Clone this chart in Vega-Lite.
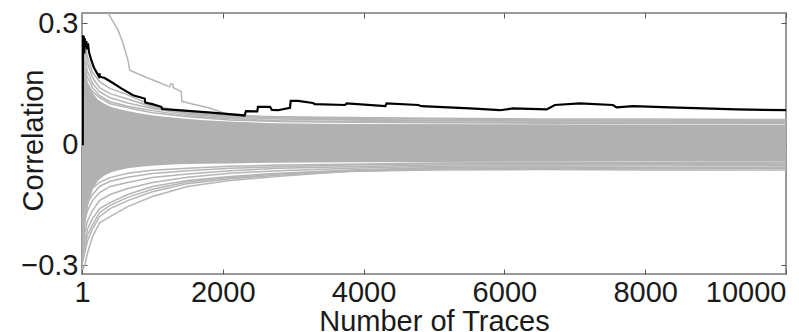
{
  "$schema": "https://vega.github.io/schema/vega-lite/v6.json",
  "width": 704,
  "height": 261,
  "autosize": "none",
  "padding": {"left": 82, "top": 13, "right": 13, "bottom": 58},
  "background": "white",
  "config": {
    "view": {"stroke": "#7a7a7a", "strokeWidth": 1.5},
    "axis": {
      "labelFont": "Liberation Sans", "titleFont": "Liberation Sans",
      "labelFontSize": 29, "titleFontSize": 29, "titleFontWeight": "normal",
      "labelColor": "#1a1a1a", "titleColor": "#1a1a1a",
      "grid": false, "domain": false, "tickColor": "#555555", "tickSize": -5, "tickWidth": 1
    }
  },
  "datasets": {
    "band": [
      {"x": 1, "lo": -0.315, "hi": 0.30},
      {"x": 10, "lo": -0.31, "hi": 0.27},
      {"x": 25, "lo": -0.27, "hi": 0.23},
      {"x": 45, "lo": -0.21, "hi": 0.19},
      {"x": 70, "lo": -0.17, "hi": 0.16},
      {"x": 110, "lo": -0.135, "hi": 0.14},
      {"x": 160, "lo": -0.11, "hi": 0.125},
      {"x": 230, "lo": -0.09, "hi": 0.11},
      {"x": 320, "lo": -0.078, "hi": 0.1},
      {"x": 420, "lo": -0.07, "hi": 0.092},
      {"x": 520, "lo": -0.065, "hi": 0.087},
      {"x": 650, "lo": -0.06, "hi": 0.082},
      {"x": 830, "lo": -0.056, "hi": 0.076},
      {"x": 1040, "lo": -0.053, "hi": 0.07},
      {"x": 1360, "lo": -0.05, "hi": 0.065},
      {"x": 1680, "lo": -0.049, "hi": 0.06},
      {"x": 2070, "lo": -0.048, "hi": 0.056},
      {"x": 2740, "lo": -0.046, "hi": 0.052},
      {"x": 3800, "lo": -0.045, "hi": 0.05},
      {"x": 6000, "lo": -0.044, "hi": 0.049},
      {"x": 10000, "lo": -0.043, "hi": 0.048}
    ],
    "lines": [
      {"s": "L1", "x": 15, "y": -0.31}, {"s": "L1", "x": 40, "y": -0.30}, {"s": "L1", "x": 80, "y": -0.27}, {"s": "L1", "x": 150, "y": -0.23},
      {"s": "L1", "x": 250, "y": -0.195}, {"s": "L1", "x": 400, "y": -0.18}, {"s": "L1", "x": 650, "y": -0.155}, {"s": "L1", "x": 1000, "y": -0.13},
      {"s": "L1", "x": 1500, "y": -0.105}, {"s": "L1", "x": 2100, "y": -0.09}, {"s": "L1", "x": 2800, "y": -0.08}, {"s": "L1", "x": 3800, "y": -0.067},
      {"s": "L1", "x": 5000, "y": -0.064}, {"s": "L1", "x": 6500, "y": -0.063}, {"s": "L1", "x": 8000, "y": -0.064}, {"s": "L1", "x": 10000, "y": -0.064},
      {"s": "L2", "x": 15, "y": -0.29}, {"s": "L2", "x": 40, "y": -0.27}, {"s": "L2", "x": 80, "y": -0.24}, {"s": "L2", "x": 150, "y": -0.21},
      {"s": "L2", "x": 250, "y": -0.18}, {"s": "L2", "x": 400, "y": -0.16}, {"s": "L2", "x": 650, "y": -0.14}, {"s": "L2", "x": 1000, "y": -0.118},
      {"s": "L2", "x": 1500, "y": -0.098}, {"s": "L2", "x": 2100, "y": -0.086}, {"s": "L2", "x": 2800, "y": -0.077}, {"s": "L2", "x": 3800, "y": -0.068},
      {"s": "L2", "x": 5000, "y": -0.062}, {"s": "L2", "x": 6500, "y": -0.06}, {"s": "L2", "x": 8000, "y": -0.061}, {"s": "L2", "x": 10000, "y": -0.06},
      {"s": "L0", "x": 15, "y": -0.28}, {"s": "L0", "x": 40, "y": -0.255}, {"s": "L0", "x": 80, "y": -0.225}, {"s": "L0", "x": 150, "y": -0.2},
      {"s": "L0", "x": 250, "y": -0.17}, {"s": "L0", "x": 400, "y": -0.152}, {"s": "L0", "x": 650, "y": -0.132}, {"s": "L0", "x": 1000, "y": -0.112},
      {"s": "L0", "x": 1500, "y": -0.094}, {"s": "L0", "x": 2100, "y": -0.083}, {"s": "L0", "x": 2800, "y": -0.074}, {"s": "L0", "x": 3800, "y": -0.066},
      {"s": "L0", "x": 5000, "y": -0.06}, {"s": "L0", "x": 6500, "y": -0.058}, {"s": "L0", "x": 8000, "y": -0.059}, {"s": "L0", "x": 10000, "y": -0.058},
      {"s": "L3", "x": 15, "y": -0.27}, {"s": "L3", "x": 40, "y": -0.24}, {"s": "L3", "x": 80, "y": -0.21}, {"s": "L3", "x": 150, "y": -0.185},
      {"s": "L3", "x": 250, "y": -0.16}, {"s": "L3", "x": 400, "y": -0.145}, {"s": "L3", "x": 650, "y": -0.125}, {"s": "L3", "x": 1000, "y": -0.105},
      {"s": "L3", "x": 1500, "y": -0.09}, {"s": "L3", "x": 2100, "y": -0.08}, {"s": "L3", "x": 2800, "y": -0.072}, {"s": "L3", "x": 3800, "y": -0.064},
      {"s": "L3", "x": 5000, "y": -0.058}, {"s": "L3", "x": 6500, "y": -0.057}, {"s": "L3", "x": 8000, "y": -0.058}, {"s": "L3", "x": 10000, "y": -0.057},
      {"s": "L4", "x": 15, "y": -0.25}, {"s": "L4", "x": 40, "y": -0.22}, {"s": "L4", "x": 80, "y": -0.19}, {"s": "L4", "x": 150, "y": -0.165},
      {"s": "L4", "x": 250, "y": -0.14}, {"s": "L4", "x": 400, "y": -0.125}, {"s": "L4", "x": 650, "y": -0.11}, {"s": "L4", "x": 1000, "y": -0.095},
      {"s": "L4", "x": 1500, "y": -0.082}, {"s": "L4", "x": 2100, "y": -0.072}, {"s": "L4", "x": 2800, "y": -0.066}, {"s": "L4", "x": 3800, "y": -0.06},
      {"s": "L4", "x": 5000, "y": -0.055}, {"s": "L4", "x": 6500, "y": -0.054}, {"s": "L4", "x": 8000, "y": -0.054}, {"s": "L4", "x": 10000, "y": -0.053},
      {"s": "L5", "x": 15, "y": -0.22}, {"s": "L5", "x": 40, "y": -0.19}, {"s": "L5", "x": 80, "y": -0.165}, {"s": "L5", "x": 150, "y": -0.14},
      {"s": "L5", "x": 250, "y": -0.12}, {"s": "L5", "x": 400, "y": -0.105}, {"s": "L5", "x": 650, "y": -0.095}, {"s": "L5", "x": 1000, "y": -0.083},
      {"s": "L5", "x": 1500, "y": -0.074}, {"s": "L5", "x": 2100, "y": -0.066}, {"s": "L5", "x": 2800, "y": -0.06}, {"s": "L5", "x": 3800, "y": -0.056},
      {"s": "L5", "x": 5000, "y": -0.052}, {"s": "L5", "x": 6500, "y": -0.051}, {"s": "L5", "x": 8000, "y": -0.05}, {"s": "L5", "x": 10000, "y": -0.05},
      {"s": "L6", "x": 15, "y": -0.2}, {"s": "L6", "x": 40, "y": -0.17}, {"s": "L6", "x": 80, "y": -0.145}, {"s": "L6", "x": 150, "y": -0.125},
      {"s": "L6", "x": 250, "y": -0.105}, {"s": "L6", "x": 400, "y": -0.092}, {"s": "L6", "x": 650, "y": -0.082}, {"s": "L6", "x": 1000, "y": -0.073},
      {"s": "L6", "x": 1500, "y": -0.066}, {"s": "L6", "x": 2100, "y": -0.06}, {"s": "L6", "x": 2800, "y": -0.056}, {"s": "L6", "x": 3800, "y": -0.052},
      {"s": "L6", "x": 5000, "y": -0.049}, {"s": "L6", "x": 6500, "y": -0.048}, {"s": "L6", "x": 8000, "y": -0.048}, {"s": "L6", "x": 10000, "y": -0.047},
      {"s": "L7", "x": 15, "y": -0.18}, {"s": "L7", "x": 40, "y": -0.15}, {"s": "L7", "x": 80, "y": -0.125}, {"s": "L7", "x": 150, "y": -0.11},
      {"s": "L7", "x": 250, "y": -0.095}, {"s": "L7", "x": 400, "y": -0.083}, {"s": "L7", "x": 650, "y": -0.072}, {"s": "L7", "x": 1000, "y": -0.065},
      {"s": "L7", "x": 1500, "y": -0.06}, {"s": "L7", "x": 2100, "y": -0.055}, {"s": "L7", "x": 2800, "y": -0.052}, {"s": "L7", "x": 3800, "y": -0.05},
      {"s": "L7", "x": 5000, "y": -0.047}, {"s": "L7", "x": 6500, "y": -0.046}, {"s": "L7", "x": 8000, "y": -0.046}, {"s": "L7", "x": 10000, "y": -0.045},
      {"s": "U0", "x": 15, "y": 0.27}, {"s": "U0", "x": 40, "y": 0.245}, {"s": "U0", "x": 80, "y": 0.215}, {"s": "U0", "x": 150, "y": 0.178},
      {"s": "U0", "x": 250, "y": 0.155}, {"s": "U0", "x": 400, "y": 0.138}, {"s": "U0", "x": 650, "y": 0.122}, {"s": "U0", "x": 1000, "y": 0.095},
      {"s": "U0", "x": 1500, "y": 0.079}, {"s": "U0", "x": 2100, "y": 0.07}, {"s": "U0", "x": 2800, "y": 0.068}, {"s": "U0", "x": 3800, "y": 0.066},
      {"s": "U0", "x": 5000, "y": 0.064}, {"s": "U0", "x": 6500, "y": 0.062}, {"s": "U0", "x": 8000, "y": 0.062}, {"s": "U0", "x": 10000, "y": 0.061},
      {"s": "U1", "x": 15, "y": 0.26}, {"s": "U1", "x": 40, "y": 0.23}, {"s": "U1", "x": 80, "y": 0.2}, {"s": "U1", "x": 150, "y": 0.165},
      {"s": "U1", "x": 250, "y": 0.14}, {"s": "U1", "x": 400, "y": 0.125}, {"s": "U1", "x": 650, "y": 0.112}, {"s": "U1", "x": 1000, "y": 0.092},
      {"s": "U1", "x": 1500, "y": 0.077}, {"s": "U1", "x": 2100, "y": 0.068}, {"s": "U1", "x": 2800, "y": 0.066}, {"s": "U1", "x": 3800, "y": 0.064},
      {"s": "U1", "x": 5000, "y": 0.062}, {"s": "U1", "x": 6500, "y": 0.06}, {"s": "U1", "x": 8000, "y": 0.06}, {"s": "U1", "x": 10000, "y": 0.06},
      {"s": "U2", "x": 15, "y": 0.24}, {"s": "U2", "x": 40, "y": 0.21}, {"s": "U2", "x": 80, "y": 0.18}, {"s": "U2", "x": 150, "y": 0.15},
      {"s": "U2", "x": 250, "y": 0.13}, {"s": "U2", "x": 400, "y": 0.115}, {"s": "U2", "x": 650, "y": 0.102}, {"s": "U2", "x": 1000, "y": 0.088},
      {"s": "U2", "x": 1500, "y": 0.074}, {"s": "U2", "x": 2100, "y": 0.066}, {"s": "U2", "x": 2800, "y": 0.062}, {"s": "U2", "x": 3800, "y": 0.06},
      {"s": "U2", "x": 5000, "y": 0.058}, {"s": "U2", "x": 6500, "y": 0.057}, {"s": "U2", "x": 8000, "y": 0.057}, {"s": "U2", "x": 10000, "y": 0.056},
      {"s": "U3", "x": 15, "y": 0.22}, {"s": "U3", "x": 40, "y": 0.19}, {"s": "U3", "x": 80, "y": 0.165}, {"s": "U3", "x": 150, "y": 0.14},
      {"s": "U3", "x": 250, "y": 0.12}, {"s": "U3", "x": 400, "y": 0.105}, {"s": "U3", "x": 650, "y": 0.094}, {"s": "U3", "x": 1000, "y": 0.083},
      {"s": "U3", "x": 1500, "y": 0.07}, {"s": "U3", "x": 2100, "y": 0.063}, {"s": "U3", "x": 2800, "y": 0.058}, {"s": "U3", "x": 3800, "y": 0.056},
      {"s": "U3", "x": 5000, "y": 0.055}, {"s": "U3", "x": 6500, "y": 0.054}, {"s": "U3", "x": 8000, "y": 0.054}, {"s": "U3", "x": 10000, "y": 0.053},
      {"s": "U4", "x": 15, "y": 0.2}, {"s": "U4", "x": 40, "y": 0.175}, {"s": "U4", "x": 80, "y": 0.15}, {"s": "U4", "x": 150, "y": 0.13},
      {"s": "U4", "x": 250, "y": 0.115}, {"s": "U4", "x": 400, "y": 0.1}, {"s": "U4", "x": 650, "y": 0.09}, {"s": "U4", "x": 1000, "y": 0.078},
      {"s": "U4", "x": 1500, "y": 0.068}, {"s": "U4", "x": 2100, "y": 0.06}, {"s": "U4", "x": 2800, "y": 0.056}, {"s": "U4", "x": 3800, "y": 0.054},
      {"s": "U4", "x": 5000, "y": 0.053}, {"s": "U4", "x": 6500, "y": 0.052}, {"s": "U4", "x": 8000, "y": 0.052}, {"s": "U4", "x": 10000, "y": 0.051},
      {"s": "O", "x": 1, "y": 0.6}, {"s": "O", "x": 200, "y": 0.45}, {"s": "O", "x": 370, "y": 0.325}, {"s": "O", "x": 512, "y": 0.283},
      {"s": "O", "x": 583, "y": 0.25}, {"s": "O", "x": 654, "y": 0.208}, {"s": "O", "x": 678, "y": 0.183}, {"s": "O", "x": 891, "y": 0.167},
      {"s": "O", "x": 1080, "y": 0.154}, {"s": "O", "x": 1246, "y": 0.142}, {"s": "O", "x": 1260, "y": 0.149}, {"s": "O", "x": 1290, "y": 0.149},
      {"s": "O", "x": 1300, "y": 0.14}, {"s": "O", "x": 1411, "y": 0.13}, {"s": "O", "x": 1420, "y": 0.106}, {"s": "O", "x": 1553, "y": 0.1},
      {"s": "O", "x": 1800, "y": 0.09}, {"s": "O", "x": 2100, "y": 0.072}, {"s": "O", "x": 2800, "y": 0.066}, {"s": "O", "x": 3800, "y": 0.061},
      {"s": "O", "x": 5000, "y": 0.059}, {"s": "O", "x": 6500, "y": 0.058}, {"s": "O", "x": 8000, "y": 0.058}, {"s": "O", "x": 10000, "y": 0.057}
    ],
    "key": [
      {"x": 1, "y": 0}, {"x": 12, "y": 0}, {"x": 14, "y": 0.27}, {"x": 20, "y": 0.235}, {"x": 26, "y": 0.268},
      {"x": 33, "y": 0.225}, {"x": 40, "y": 0.262}, {"x": 50, "y": 0.24}, {"x": 62, "y": 0.255}, {"x": 75, "y": 0.235},
      {"x": 86, "y": 0.25}, {"x": 100, "y": 0.228}, {"x": 133, "y": 0.208}, {"x": 170, "y": 0.19}, {"x": 204, "y": 0.179},
      {"x": 240, "y": 0.168}, {"x": 250, "y": 0.175}, {"x": 256, "y": 0.167}, {"x": 323, "y": 0.164}, {"x": 417, "y": 0.154},
      {"x": 559, "y": 0.138}, {"x": 725, "y": 0.121}, {"x": 891, "y": 0.113}, {"x": 900, "y": 0.103}, {"x": 1000, "y": 0.099},
      {"x": 1127, "y": 0.0925}, {"x": 1140, "y": 0.087}, {"x": 1364, "y": 0.084}, {"x": 1837, "y": 0.078}, {"x": 2311, "y": 0.071},
      {"x": 2330, "y": 0.082}, {"x": 2490, "y": 0.081}, {"x": 2500, "y": 0.0925}, {"x": 2671, "y": 0.0925}, {"x": 2700, "y": 0.085},
      {"x": 2784, "y": 0.084}, {"x": 2955, "y": 0.09}, {"x": 2965, "y": 0.107}, {"x": 3068, "y": 0.107}, {"x": 3281, "y": 0.102},
      {"x": 3310, "y": 0.099}, {"x": 3736, "y": 0.097}, {"x": 3760, "y": 0.101}, {"x": 4310, "y": 0.094}, {"x": 4327, "y": 0.101},
      {"x": 4776, "y": 0.097}, {"x": 4824, "y": 0.094}, {"x": 5510, "y": 0.0885}, {"x": 5937, "y": 0.084}, {"x": 6121, "y": 0.0885},
      {"x": 6600, "y": 0.086}, {"x": 6717, "y": 0.097}, {"x": 7072, "y": 0.101}, {"x": 7541, "y": 0.097}, {"x": 7594, "y": 0.091},
      {"x": 7830, "y": 0.094}, {"x": 8350, "y": 0.091}, {"x": 9297, "y": 0.086}, {"x": 10000, "y": 0.084}
    ]
  },
  "layer": [
    {
      "data": {"name": "band"},
      "mark": {"type": "area", "color": "#b1b1b1", "clip": true},
      "encoding": {
        "x": {
          "field": "x", "type": "quantitative",
          "scale": {"domain": [1, 10000], "nice": false, "zero": false},
          "axis": {
            "orient": "bottom", "values": [1, 2000, 4000, 6000, 8000, 10000], "format": "d",
            "labelPadding": 9,
            "labelAlign": {"condition": {"test": "datum.value >= 10000", "value": "right"}, "value": "center"},
            "title": "Number of Traces", "titleX": 352, "titleY": 56, "titleBaseline": "alphabetic", "titleAlign": "center"
          }
        },
        "y": {
          "field": "lo", "type": "quantitative",
          "scale": {"domain": [-0.322, 0.325], "nice": false, "zero": false},
          "axis": {
            "orient": "left", "values": [-0.3, 0, 0.3], "format": ".1~f",
            "labelPadding": 9,
            "title": "Correlation", "titleAngle": -90, "titleX": -40, "titleY": 127, "titleBaseline": "alphabetic", "titleAlign": "center"
          }
        },
        "y2": {"field": "hi"}
      }
    },
    {
      "data": {"name": "lines"},
      "mark": {"type": "line", "color": "#b5b5b5", "strokeWidth": 1.5, "clip": true},
      "encoding": {
        "x": {"field": "x", "type": "quantitative", "axis": null},
        "y": {"field": "y", "type": "quantitative", "axis": null},
        "detail": {"field": "s", "type": "nominal"}
      }
    },
    {
      "data": {"name": "key"},
      "mark": {"type": "line", "color": "#000000", "strokeWidth": 2.2, "clip": true},
      "encoding": {
        "x": {"field": "x", "type": "quantitative",
              "axis": {"orient": "top", "values": [2000, 4000, 6000, 8000, 10000], "labels": false, "title": null}},
        "y": {"field": "y", "type": "quantitative",
              "axis": {"orient": "right", "values": [-0.3, 0, 0.3], "labels": false, "title": null}}
      }
    }
  ],
  "resolve": {"axis": {"x": "independent", "y": "independent"}}
}
